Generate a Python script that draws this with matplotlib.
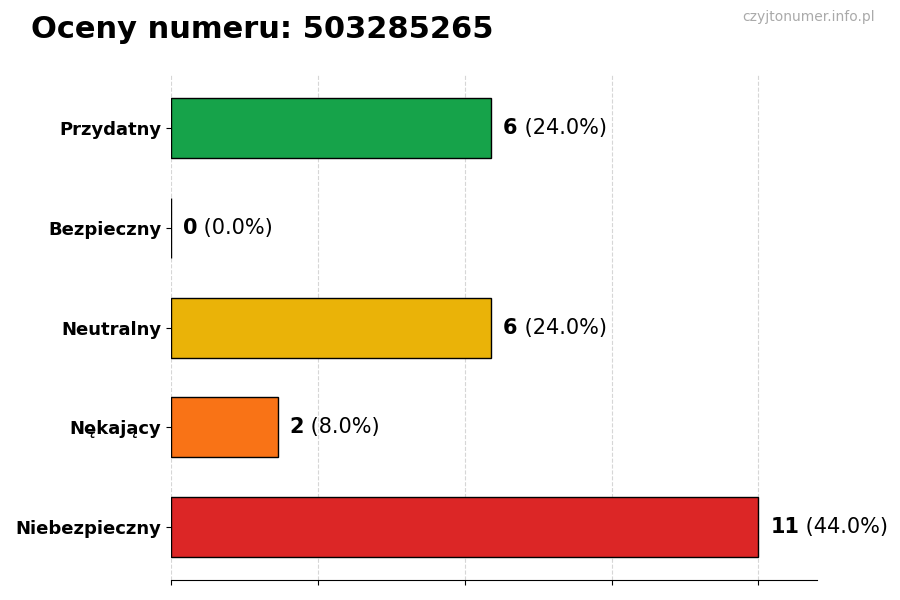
import matplotlib.pyplot as plt
import numpy as np

categories = ["Przydatny", "Bezpieczny", "Neutralny", "Nękający", "Niebezpieczny"]
counts = [6, 0, 6, 2, 11]
colors = ["#16a34a", "#2563eb", "#eab308", "#f97316", "#dc2626"]

total = sum(counts)
max_val = max(counts)

fig = plt.figure(figsize=(9, 6), dpi=100)
ax = fig.add_axes([0.19, 0.033, 0.718, 0.842])

y = np.arange(len(categories))[::-1]
ax.barh(y, counts, height=0.6, color=colors, edgecolor="black", linewidth=1, zorder=3)

ax.set_yticks(y)
ax.set_yticklabels(categories, fontsize=13, fontweight="bold")
ax.set_xlim(0, max_val * 1.1)
ax.set_xticks(np.linspace(0, max_val, 5))
ax.set_xticklabels([])
ax.grid(axis="x", linestyle="--", color="#cccccc", alpha=0.8, zorder=0)

for s in ["top", "right", "left"]:
    ax.spines[s].set_visible(False)

for yi, c in zip(y, counts):
    pct = c / total * 100
    t = ax.text(c + max_val * 0.02, yi, str(c), fontsize=15, fontweight="bold",
                va="center", ha="left")
    ax.annotate(f" ({pct:.1f}%)", xy=(1, yi), xycoords=(t, "data"),
                fontsize=15, va="center", ha="left")

fig.text(0.034, 0.95, "Oceny numeru: 503285265", fontsize=22, fontweight="bold",
         va="center", ha="left")
fig.text(0.972, 0.972, "czyjtonumer.info.pl", fontsize=10, color="#aaaaaa",
         va="center", ha="right")

fig.savefig("out.png", dpi=100)
